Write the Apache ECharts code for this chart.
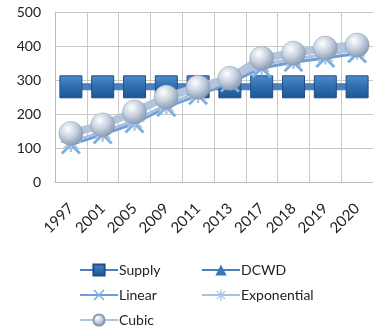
<!DOCTYPE html>
<html><head><meta charset="utf-8">
<script src="https://cdn.jsdelivr.net/npm/echarts@6/dist/echarts.min.js"></script>
<style>html,body{margin:0;padding:0;background:#fff}#c{width:373px;height:333px}</style>
</head><body><div id="c"></div>
<script>
const categories = ['1997','2001','2005','2009','2011','2013','2017','2018','2019','2020'];
const yTicks = [0,100,200,300,400,500];
const supply = [280,280,280,280,280,280,280,280,280,280];
const dcwd = [280,280,280,280,280,280,280,280,280,280];
const linear = [110,140,172,220,255,292,335,352,365,378];
const exponential = [118,148,180,228,262,300,345,362,375,390];
const cubic = [143,168,206,250,279,305,364,379,394,403];

const xSym = 'path://M1,0L5,4L9,0L10,1L6,5L10,9L9,10L5,6L1,10L0,9L4,5L0,1Z';
const starSym = 'path://M4.4,0H5.6V3.6L8.2,1L9,1.8L6.4,4.4H10V5.6H6.4L9,8.2L8.2,9L5.6,6.4V10H4.4V6.4L1.8,9L1,8.2L3.6,5.6H0V4.4H3.6L1,1.8L1.8,1L4.4,3.6Z';
const sphere = {type:'radial',x:0.38,y:0.32,r:0.75,colorStops:[{offset:0,color:'#ffffff'},{offset:0.45,color:'#c9d3e2'},{offset:1,color:'#7d8fa8'}]};
const squareFill = {type:'linear',x:0,y:0,x2:0,y2:1,colorStops:[{offset:0,color:'#4f8cc9'},{offset:0.5,color:'#2f6db0'},{offset:1,color:'#1d5596'}]};

const chart = echarts.init(document.getElementById('c'));
const legendText = {fontSize:14,color:'#222',fontFamily:'Lato',padding:[0,0,0,-4]};
chart.setOption({
  animation:false,
  grid:{left:55,top:12,right:-5,bottom:151,containLabel:false},
  textStyle:{fontFamily:'Lato'},
  xAxis:{type:'category',data:categories,boundaryGap:true,
    axisLine:{show:true,lineStyle:{color:'#bdbdbd',width:1}},
    axisTick:{show:false},
    splitLine:{show:true,interval:0,lineStyle:{color:'#c8c8c8',width:1}},
    axisLabel:{interval:0,rotate:45,fontSize:15,color:'#222',margin:24,fontFamily:'Lato'}},
  yAxis:{type:'value',min:0,max:500,interval:100,
    axisLine:{show:true,lineStyle:{color:'#bdbdbd'}},
    axisTick:{show:false},
    splitLine:{show:true,lineStyle:{color:'#c8c8c8',width:1}},
    axisLabel:{fontSize:14,color:'#222',margin:14,fontFamily:'Lato',
      formatter:v=>yTicks.includes(v)?String(v):''}},
  legend:[
    {left:79,top:263,padding:0,height:75,orient:'vertical',itemGap:11,itemWidth:38,itemHeight:14,
     textStyle:legendText,data:['Supply','Linear','Cubic']},
    {left:201,top:263,padding:0,height:75,orient:'vertical',itemGap:11,itemWidth:38,itemHeight:14,
     textStyle:legendText,data:['DCWD','Exponential']}
  ],
  series:[
    {name:'DCWD',type:'line',data:dcwd,symbol:'triangle',symbolSize:18,z:1,
     lineStyle:{color:'#4a80bf',width:6},itemStyle:{color:'#3b76b8'}},
    {name:'Supply',type:'line',data:supply,symbol:'rect',symbolSize:22,z:2,
     lineStyle:{color:'#4a80bf',width:7},itemStyle:{color:squareFill,borderColor:'#1e4f86',borderWidth:1}},
    {name:'Linear',type:'line',data:linear,symbol:xSym,symbolSize:20,z:3,
     lineStyle:{color:'#6f9ed4',width:3},itemStyle:{color:'#7eaee0'}},
    {name:'Exponential',type:'line',data:exponential,symbol:starSym,symbolSize:20,z:4,
     lineStyle:{color:'#a9c2e0',width:3},itemStyle:{color:'#a9c4e6'}},
    {name:'Cubic',type:'line',data:cubic,symbol:'circle',symbolSize:24,z:5,
     lineStyle:{color:'#b2c5dc',width:8},itemStyle:{color:sphere,borderColor:'#8a9ab0',borderWidth:0.5}}
  ]
});
</script></body></html>
